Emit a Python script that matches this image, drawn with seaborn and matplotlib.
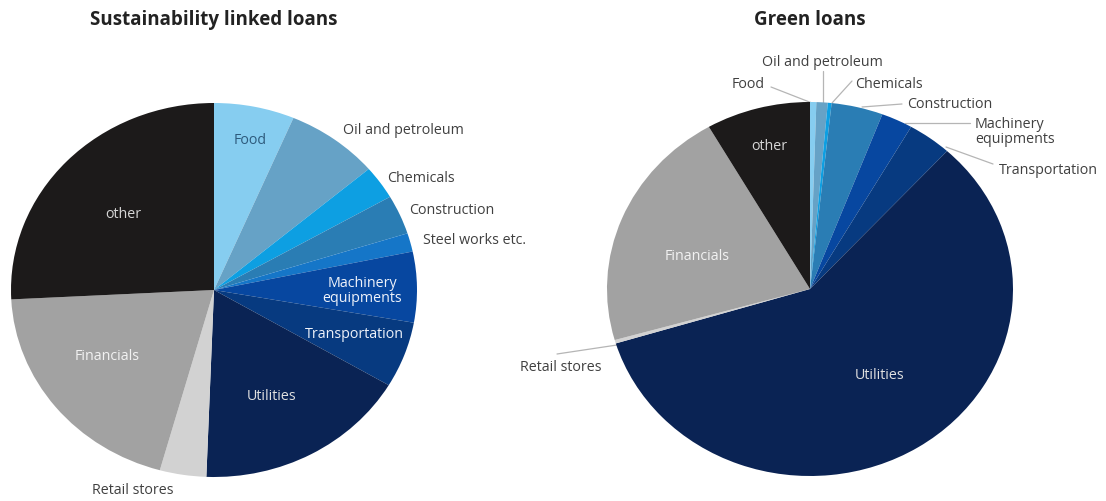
import numpy as np
import matplotlib
matplotlib.use("Agg")
import matplotlib.pyplot as plt
import seaborn as sns

sns.set_theme(style="white")
plt.rcParams["font.family"] = ["Open Sans", "DejaVu Sans"]

# Sector shares (% of lending volume)
sll_sectors = ["Food", "Oil and petroleum", "Chemicals", "Construction", "Steel works etc.",
               "Machinery\nequipments", "Transportation", "Utilities", "Retail stores",
               "Financials", "other"]
sll_shares = [6.4, 7.4, 2.9, 3.4, 1.6, 6.1, 5.7, 17.1, 3.7, 19.9, 25.8]

green_sectors = ["Food", "Oil and petroleum", "Chemicals", "Construction",
                 "Machinery\nequipments", "Transportation", "Utilities", "Retail stores",
                 "Financials", "other"]
green_shares = [0.5, 0.9, 0.3, 4.1, 2.5, 3.5, 58.5, 0.3, 21.1, 8.3]

titles = ["Sustainability linked loans", "Green loans"]

sector_colors = {
    "Food": "#86cdf0",
    "Oil and petroleum": "#66a2c6",
    "Chemicals": "#0d9fe2",
    "Construction": "#2a7db4",
    "Steel works etc.": "#1576c8",
    "Machinery\nequipments": "#0747a0",
    "Transportation": "#073a80",
    "Utilities": "#0a2354",
    "Retail stores": "#d2d2d2",
    "Financials": "#a2a2a2",
    "other": "#1c1a1a",
}

W, H = 1106, 502
fig = plt.figure(figsize=(W / 100, H / 100), dpi=100)
fig.patch.set_facecolor("white")

RX, RY = 203, 187


def make_axes(cx, cy):
    ax = fig.add_axes([(cx - RX) / W, (H - cy - RY) / H, 2 * RX / W, 2 * RY / H])
    return ax


def to_data(cx, cy, px, py):
    return (px - cx) / RX, (cy - py) / RY


def draw_pie(ax, shares, sectors):
    wedges, _ = ax.pie(shares, colors=[sector_colors[s] for s in sectors],
                       startangle=90, counterclock=False, radius=1,
                       wedgeprops=dict(linewidth=0))
    ax.set_aspect("auto")
    ax.set_xlim(-1, 1)
    ax.set_ylim(-1, 1)
    ax.axis("off")
    return wedges


outer_kw = dict(fontsize=10.3, color="#404040", va="center")
inner_kw = dict(fontsize=10.3, color="#e8e8e8", va="center", ha="center")

# ---- Sustainability linked loans ----
cx1, cy1 = 214, 291
ax1 = make_axes(cx1, cy1)
draw_pie(ax1, sll_shares, sll_sectors)

inner1 = {
    "Food": ((250, 140), "#2e5b7d"),
    "other": ((123, 215), "#d6d6d6"),
    "Financials": ((107, 357), "#f2f2f2"),
    "Utilities": ((272, 397), "#e0e0e0"),
    "Machinery\nequipments": ((362, 291), "#eef2fa"),
    "Transportation": ((354, 334), "#eef2fa"),
}
for name, ((px, py), col) in inner1.items():
    x, y = to_data(cx1, cy1, px, py)
    ax1.text(x, y, name, **{**inner_kw, "color": col}, linespacing=1.0)

outer1 = {
    "Oil and petroleum": (343, 130),
    "Chemicals": (387, 178),
    "Construction": (409, 211),
    "Steel works etc.": (423, 241),
}
for name, (px, py) in outer1.items():
    x, y = to_data(cx1, cy1, px, py)
    ax1.text(x, y, name, ha="left", clip_on=False, **outer_kw)
x, y = to_data(cx1, cy1, 133, 491)
ax1.text(x, y, "Retail stores", ha="center", clip_on=False, **outer_kw)

x, y = to_data(cx1, cy1, 214, 20)
ax1.text(x, y, titles[0], ha="center", va="center", fontsize=13.5,
         fontweight="bold", color="#222222", clip_on=False)

# ---- Green loans ----
cx2, cy2 = 810, 290
ax2 = make_axes(cx2, cy2)
draw_pie(ax2, green_shares, green_sectors)

inner2 = {
    "other": ((769, 147), "#d6d6d6"),
    "Financials": ((697, 256), "#f2f2f2"),
    "Utilities": ((880, 376), "#e0e0e0"),
}
for name, ((px, py), col) in inner2.items():
    x, y = to_data(cx2, cy2, px, py)
    ax2.text(x, y, name, **{**inner_kw, "color": col})

# label text position, alignment, leader start, leader end on rim (pixels)
outer2 = {
    "Oil and petroleum": ((822, 62), "center", (823, 72), (823, 105)),
    "Food": ((748, 85), "center", (771, 88), (812, 104)),
    "Chemicals": ((855, 85), "left", (852, 82), (832, 104)),
    "Construction": ((907, 104), "left", (902, 105), (862, 108)),
    "Machinery\nequipments": ((975, 132), "left", (970, 124), (905, 124)),
    "Transportation": ((999, 170), "left", (993, 165), (946, 148)),
    "Retail stores": ((602, 368), "right", (557, 355), (617, 346)),
}
for name, ((px, py), ha, (sx, sy), (ex, ey)) in outer2.items():
    x, y = to_data(cx2, cy2, px, py)
    ax2.text(x, y, name, ha=ha, clip_on=False, linespacing=1.0, **outer_kw)
    ax2.plot([to_data(cx2, cy2, sx, sy)[0], to_data(cx2, cy2, ex, ey)[0]],
             [to_data(cx2, cy2, sx, sy)[1], to_data(cx2, cy2, ex, ey)[1]],
             color="#b5b5b5", linewidth=0.9, clip_on=False, zorder=0)

x, y = to_data(cx2, cy2, 810, 20)
ax2.text(x, y, titles[1], ha="center", va="center", fontsize=13.5,
         fontweight="bold", color="#222222", clip_on=False)

fig.savefig("out.png", dpi=100, facecolor="white")
